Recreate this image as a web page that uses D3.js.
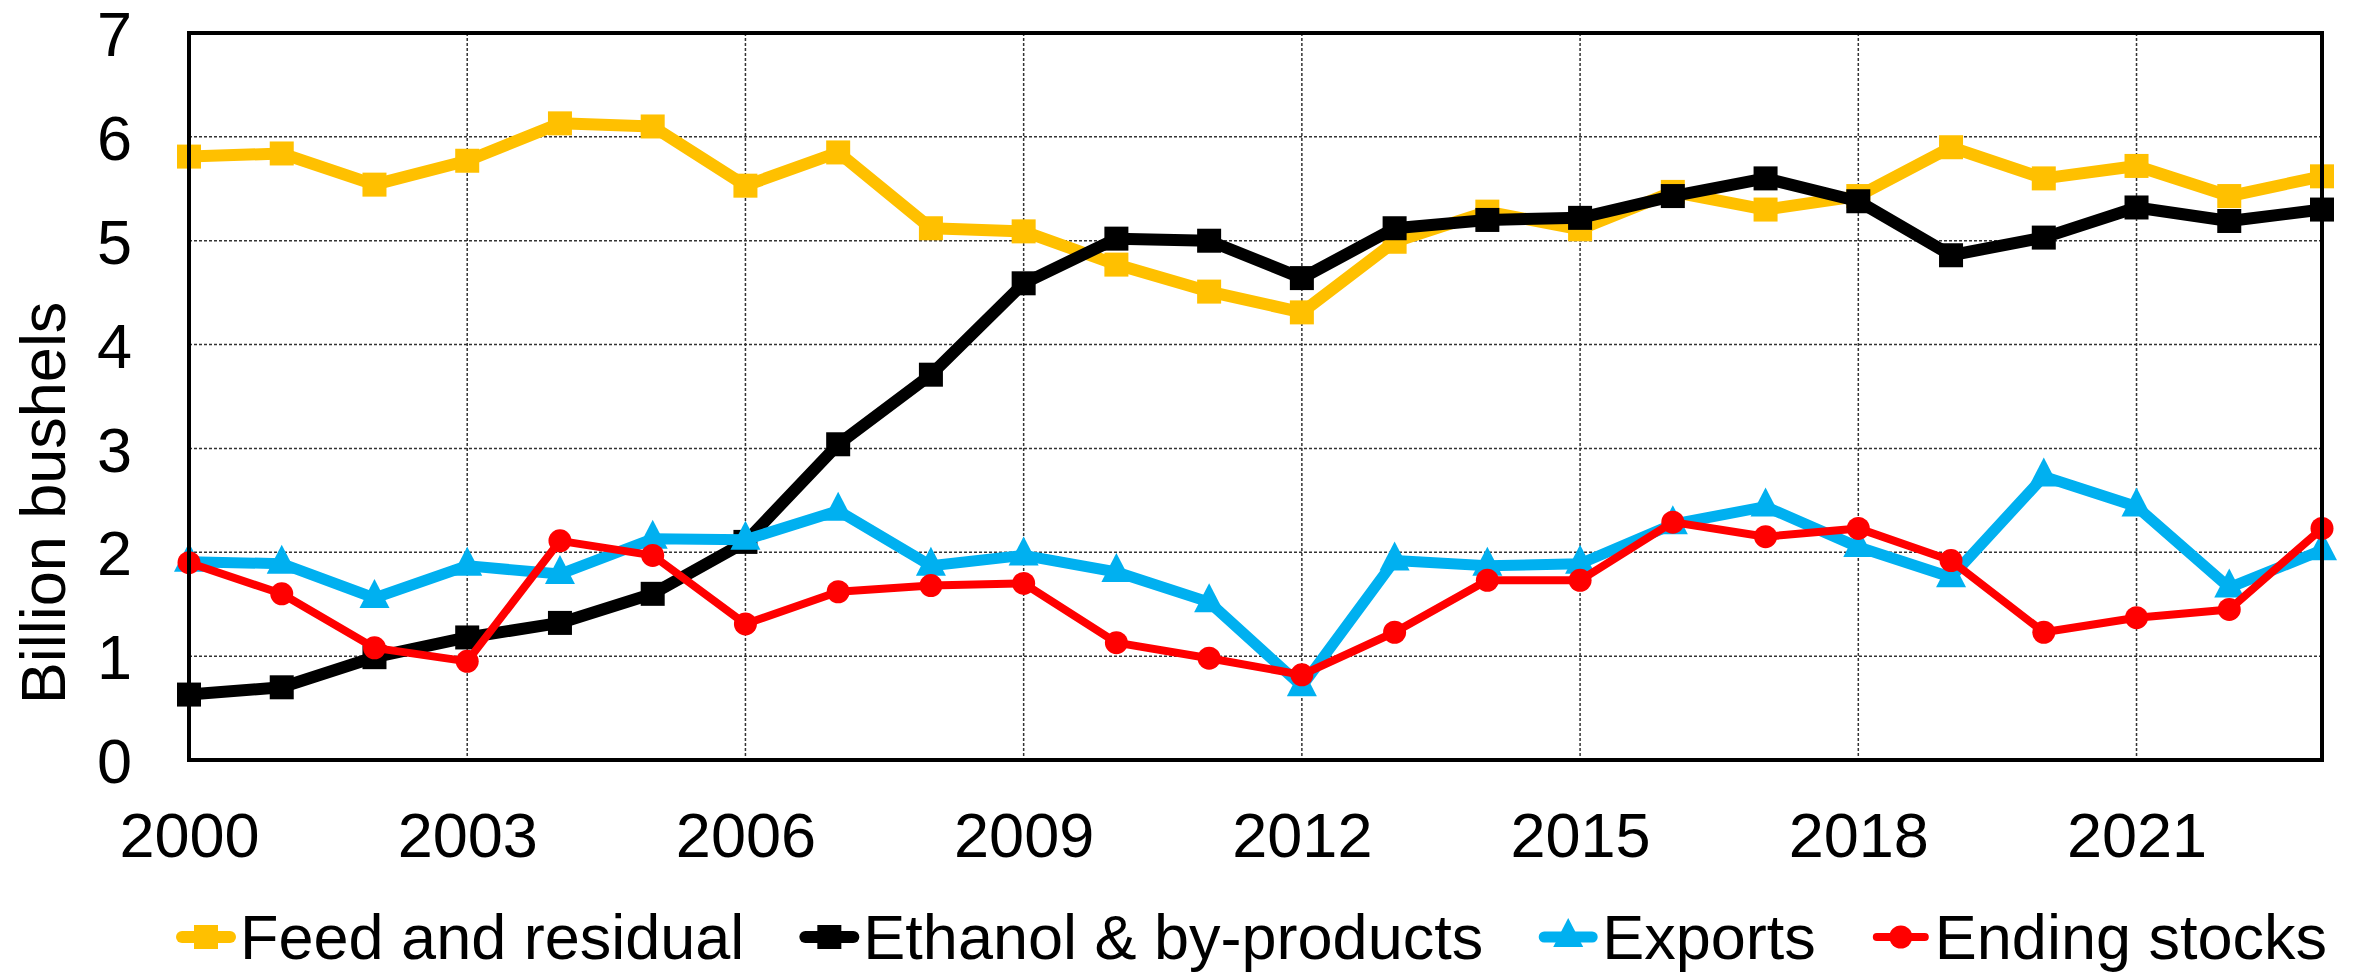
<!DOCTYPE html>
<html>
<head>
<meta charset="utf-8">
<script src="https://cdn.jsdelivr.net/npm/d3@7"></script>
<style>
  html, body { margin: 0; padding: 0; background: #fff; }
  svg text { font-family: "Liberation Sans", Arial, sans-serif; fill: #000; }
</style>
</head>
<body>
<div id="chart"></div>
<script>
// marketing years 2000..2023
const years = d3.range(2000, 2024);

const feedResidual = [5.81, 5.84, 5.54, 5.77, 6.13, 6.10, 5.53, 5.85, 5.12, 5.09, 4.77, 4.51,
                      4.31, 4.99, 5.28, 5.11, 5.47, 5.30, 5.43, 5.90, 5.60, 5.72, 5.43, 5.62];
const ethanol = [0.63, 0.70, 0.99, 1.18, 1.32, 1.60, 2.10, 3.04, 3.71, 4.59, 5.02, 5.00,
                 4.64, 5.12, 5.20, 5.22, 5.43, 5.60, 5.38, 4.86, 5.03, 5.32, 5.19, 5.30];
const exportsVals = [1.91, 1.89, 1.56, 1.87, 1.79, 2.13, 2.12, 2.40, 1.87, 1.97, 1.81, 1.52,
                     0.71, 1.92, 1.87, 1.89, 2.27, 2.44, 2.05, 1.76, 2.73, 2.44, 1.66, 2.02];
const endingStocks = [1.90, 1.60, 1.08, 0.95, 2.11, 1.97, 1.31, 1.62, 1.68, 1.70, 1.13, 0.98,
                      0.82, 1.23, 1.73, 1.73, 2.29, 2.15, 2.23, 1.92, 1.23, 1.37, 1.45, 2.23];

const seriesNames = ["Feed and residual", "Ethanol & by-products", "Exports", "Ending stocks"];
const xTicks = [2000, 2003, 2006, 2009, 2012, 2015, 2018, 2021];
const yTicks = [0, 1, 2, 3, 4, 5, 6, 7];

const series = [
  {name: seriesNames[0], values: feedResidual, color: "#FFC000", width: 12, shape: "square"},
  {name: seriesNames[1], values: ethanol, color: "#000000", width: 12, shape: "square"},
  {name: seriesNames[2], values: exportsVals, color: "#00B0F0", width: 11, shape: "triangle"},
  {name: seriesNames[3], values: endingStocks, color: "#FF0000", width: 8, shape: "circle"}
];

const W = 2361, H = 972;
const margin = {top: 33, right: 39, bottom: 212, left: 189};
const width = W - margin.left - margin.right,
      height = H - margin.top - margin.bottom;

const svg = d3.select("#chart").append("svg")
    .attr("width", W)
    .attr("height", H);

const x = d3.scaleLinear().domain([2000, 2023]).range([0, width]);
const y = d3.scaleLinear().domain([0, 7]).range([height, 0]);

const g = svg.append("g")
    .attr("transform", "translate(" + margin.left + "," + margin.top + ")");

// grid
g.append("g")
    .selectAll("line")
    .data(yTicks.filter(d => d > 0 && d < 7))
    .join("line")
    .attr("x1", 0).attr("x2", width)
    .attr("y1", d => y(d)).attr("y2", d => y(d))
    .attr("stroke", "#333").attr("stroke-width", 1.5)
    .attr("stroke-dasharray", "3,2");

g.append("g")
    .selectAll("line")
    .data(xTicks.filter(d => d > 2000))
    .join("line")
    .attr("x1", d => x(d)).attr("x2", d => x(d))
    .attr("y1", 0).attr("y2", height)
    .attr("stroke", "#333").attr("stroke-width", 1.5)
    .attr("stroke-dasharray", "3,2");

// axes (labels only, frame drawn separately)
const xAxis = d3.axisBottom(x).tickValues(xTicks).tickFormat(d3.format("d")).tickSize(0).tickPadding(0);
const yAxis = d3.axisLeft(y).tickValues(yTicks).tickFormat(d3.format("d")).tickSize(0).tickPadding(0);

const gx = g.append("g")
    .attr("transform", "translate(0," + height + ")")
    .call(xAxis);
gx.select(".domain").remove();
gx.selectAll("text")
    .attr("y", 97).attr("dy", null)
    .style("font-size", "63px");

const gy = g.append("g").call(yAxis);
gy.select(".domain").remove();
gy.selectAll("text")
    .attr("x", -57).attr("dy", "0.36em")
    .style("font-size", "63px");

// lines + markers
const line = d3.line()
    .x((d, i) => x(years[i]))
    .y(d => y(d));

function drawMarker(sel, shape, color) {
  if (shape === "square") {
    sel.append("rect")
      .attr("x", -12).attr("y", -12).attr("width", 24).attr("height", 24)
      .attr("fill", color);
  } else if (shape === "triangle") {
    sel.append("path")
      .attr("d", "M0,-19 L15,10 L-15,10 Z")
      .attr("fill", color);
  } else {
    sel.append("circle").attr("r", 11.5).attr("fill", color);
  }
}

series.forEach(s => {
  const sg = g.append("g");
  sg.append("path")
    .datum(s.values)
    .attr("d", line)
    .attr("fill", "none")
    .attr("stroke", s.color)
    .attr("stroke-width", s.width)
    .attr("stroke-linejoin", "round");
  sg.selectAll("g")
    .data(s.values)
    .join("g")
    .attr("transform", (d, i) => "translate(" + x(years[i]) + "," + y(d) + ")")
    .each(function() { drawMarker(d3.select(this), s.shape, s.color); });
});

// plot frame
g.append("rect")
    .attr("x", 0).attr("y", 0)
    .attr("width", width).attr("height", height)
    .attr("fill", "none")
    .attr("stroke", "#000")
    .attr("stroke-width", 4);

// y title
svg.append("text")
    .attr("transform", "translate(65,503) rotate(-90)")
    .attr("text-anchor", "middle")
    .style("font-size", "63px")
    .text("Billion bushels");

// legend
const legend = svg.append("g").attr("transform", "translate(0,937)");
let lx = 176;
series.forEach(s => {
  const item = legend.append("g").attr("transform", "translate(" + lx + ",0)");
  item.append("line")
    .attr("x1", 6).attr("x2", 54)
    .attr("stroke", s.color)
    .attr("stroke-width", s.width)
    .attr("stroke-linecap", "round");
  const m = item.append("g").attr("transform", "translate(30,0)");
  drawMarker(m, s.shape, s.color);
  const t = item.append("text")
    .attr("x", 64).attr("y", 22)
    .style("font-size", "63px")
    .text(s.name);
  lx += 64 + t.node().getComputedTextLength() + 55;
});
</script>
</body>
</html>
